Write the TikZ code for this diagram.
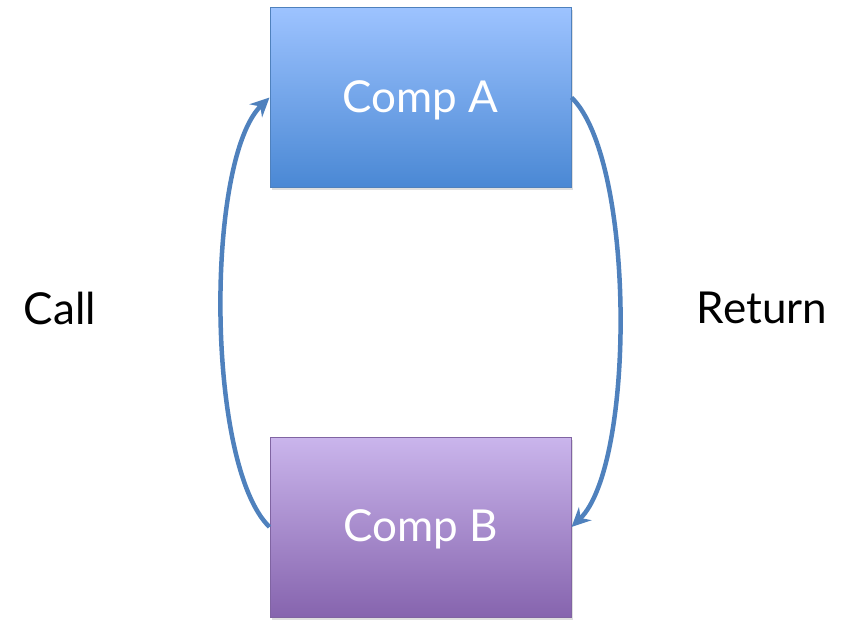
\documentclass[tikz,border=0pt]{standalone}
\usepackage{fontspec}
\setmainfont{Lato}
\usetikzlibrary{arrows.meta,shadows}
\definecolor{compblue}{HTML}{4F81BD}
\definecolor{bluetop}{HTML}{9DC3FF}
\definecolor{bluebot}{HTML}{4A88D4}
\definecolor{compviolet}{HTML}{8064A2}
\definecolor{violettop}{HTML}{CAB5EC}
\definecolor{violetbot}{HTML}{8664AE}

\begin{document}
\begin{tikzpicture}[x=1pt,y=-1pt,font=\fontsize{44}{50}\selectfont,
 comp/.style={rectangle,minimum width=301pt,minimum height=180pt,line width=1pt,text=white,text depth=2pt,
   drop shadow={shadow xshift=1.5pt,shadow yshift=-2.5pt,opacity=0.25}},
 flow/.style={-{Stealth[length=19pt,width=18pt]},line width=4.5pt,draw=compblue}]
\useasboundingbox (0,0) rectangle (848,620);
\node[comp,draw=compblue,top color=bluetop,bottom color=bluebot] (compA) at (420.5,97.5) {Comp A};
\node[comp,draw=compviolet,top color=violettop,bottom color=violetbot] (compB) at (420.5,527) {Comp B};
\node (call) at (60,308) {Call};
\node (return) at (762,308) {Return};
\draw[flow] (compB.west) .. controls +(-64,-62) and +(-64,62) .. (compA.west);
\draw[flow] (compA.east) .. controls +(64,62) and +(64,-62) .. (compB.east);
\end{tikzpicture}
\end{document}
